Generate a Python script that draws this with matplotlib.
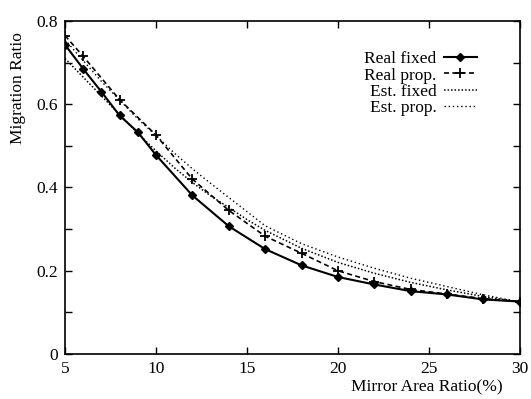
import numpy as np
import matplotlib
matplotlib.use("Agg")
import matplotlib.pyplot as plt

plt.rcParams['font.family'] = ['Liberation Serif', 'DejaVu Serif']

# Real fixed (diamonds, solid)
fix_x = [5, 6, 7, 8, 9, 10, 12, 14, 16, 18, 20, 22, 24, 26, 28, 30]
fix_y = [0.743, 0.685, 0.630, 0.573, 0.533, 0.478, 0.381, 0.307, 0.252, 0.213, 0.185, 0.167, 0.151, 0.143, 0.131, 0.126]

# Real prop. (+, dashed)
prop_x = [5, 6, 8, 10, 12, 14, 16, 18, 20, 22, 24, 26, 28, 30]
prop_y = [0.765, 0.715, 0.611, 0.526, 0.420, 0.345, 0.283, 0.242, 0.200, 0.174, 0.155, 0.144, 0.133, 0.126]

# Estimated curves (dotted)
est_x = [5, 6, 7, 8, 9, 10, 11, 12, 13, 14, 15, 16, 18, 20, 22, 24, 26, 28, 30]
estfix_y = [0.710, 0.665, 0.620, 0.575, 0.530, 0.488, 0.448, 0.412, 0.380, 0.352, 0.323, 0.297, 0.254, 0.220, 0.194, 0.172, 0.154, 0.138, 0.125]
estprop_y = [0.755, 0.705, 0.655, 0.610, 0.565, 0.525, 0.483, 0.445, 0.410, 0.376, 0.342, 0.308, 0.265, 0.233, 0.206, 0.182, 0.162, 0.142, 0.125]

fig = plt.figure(figsize=(5.31, 3.99), dpi=100)
ax = fig.add_axes([0.1224, 0.1128, 0.8566, 0.8346])

ax.plot(fix_x, fix_y, '-', color='black', lw=1.5, marker='D', ms=4.5, label='Real fixed')
ax.plot(prop_x, prop_y, '--', color='black', lw=1.2, marker='+', ms=7, mew=1.3,
        dashes=(3, 2), label='Real prop.')
ax.plot(est_x, estfix_y, color='black', lw=1.1, linestyle=(0, (1, 1.3)), label='Est. fixed')
ax.plot(est_x, estprop_y, color='black', lw=1.0, linestyle=(0, (1, 2)), label='Est. prop.')

ax.set_xlim(5, 30)
ax.set_ylim(0, 0.8)
ax.set_xticks([5, 10, 15, 20, 25, 30])
ax.set_yticks([0, 0.2, 0.4, 0.6, 0.8])
ax.set_yticklabels(['0', '0.2', '0.4', '0.6', '0.8'])
ax.set_yticks(np.arange(0.1, 0.8, 0.2), minor=True)
ax.tick_params(which='both', direction='in', top=True, right=True, labelsize=12.5, width=1)
ax.tick_params(which='major', length=5, pad=5)
ax.tick_params(which='minor', length=5)
for s in ax.spines.values():
    s.set_linewidth(1.2)

ax.set_xlabel('Mirror Area Ratio(%)', fontsize=12.5)
ax.xaxis.set_label_coords(0.795, -0.075)
ax.set_ylabel('Migration Ratio', fontsize=12.5)
ax.yaxis.set_label_coords(-0.085, 0.8)

ax.legend(loc='upper right', bbox_to_anchor=(0.92, 0.93), frameon=False, markerfirst=False,
          fontsize=12.5, handlelength=1.9, handletextpad=0.4, labelspacing=0.0,
          borderaxespad=0)

fig.savefig('out.png', dpi=100)
